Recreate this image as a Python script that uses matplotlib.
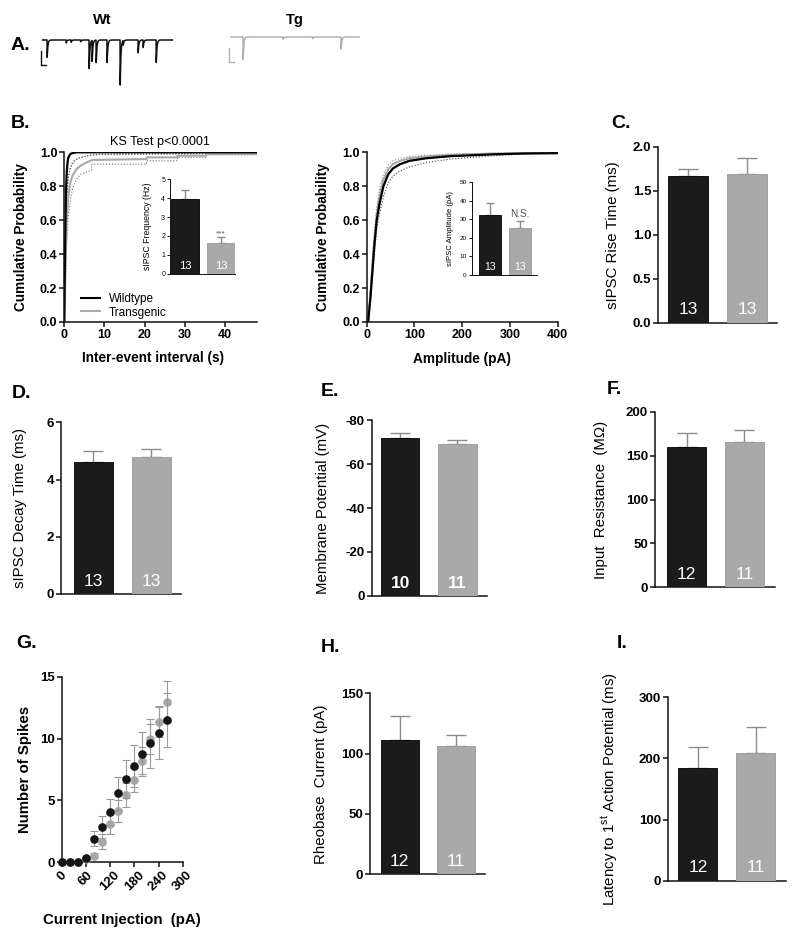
import numpy as np
import matplotlib
matplotlib.use("Agg")
import matplotlib.pyplot as plt
from matplotlib.lines import Line2D

plt.rcParams['font.family'] = ['Liberation Sans', 'DejaVu Sans']
plt.rcParams['mathtext.fontset'] = 'custom'
plt.rcParams['mathtext.rm'] = 'Liberation Sans'
plt.rcParams['mathtext.it'] = 'Liberation Sans:italic'
plt.rcParams['mathtext.bf'] = 'Liberation Sans:bold'

W, H = 800, 934
BLACK = '#1b1b1b'
GRAY = '#a9a9a9'
ERR = '#8c8c8c'

# ---- data ----
# A: example traces, events as (time s, amplitude pA)
wt_events_t = [0.52, 1.93, 2.30, 3.00, 3.63, 3.85, 4.15, 4.96, 5.93, 6.15, 7.26, 7.63, 8.60]
wt_events_a = [-115, -20, -15, -12, -190, -140, -150, -150, -300, -30, -85, -50, -150]
tg_events_t = [1.12, 4.10, 6.30, 8.43]
tg_events_a = [-150, -15, -10, -80]

# B left: cumulative inter-event interval (s)
iei_wt_x = [0, 0.2, 0.4, 0.6, 0.8, 1.0, 1.5, 2.0, 3.0, 48]
iei_wt_y = [0, 0.45, 0.75, 0.88, 0.94, 0.97, 0.99, 0.995, 1.0, 1.0]
iei_wt_lo_x = [0, 0.3, 0.6, 1.0, 1.5, 2.5, 4.0, 7.0, 10.0, 48]
iei_wt_lo_y = [0, 0.40, 0.70, 0.85, 0.91, 0.95, 0.97, 0.985, 0.99, 0.995]
iei_tg_x = [0, 0.3, 0.6, 1.0, 1.5, 2.0, 3.0, 4.0, 5.5, 7.0, 20.5, 20.5, 28.2, 28.2, 35.4, 35.4, 48]
iei_tg_y = [0, 0.35, 0.60, 0.74, 0.82, 0.86, 0.90, 0.92, 0.94, 0.955, 0.96, 0.97, 0.97, 0.98, 0.98, 0.99, 0.99]
iei_tg_lo_x = [0, 0.3, 0.6, 1.0, 1.5, 2.0, 3.0, 4.0, 6.8, 6.8, 20.5, 20.5, 28.2, 28.2, 35.4, 35.4, 48]
iei_tg_lo_y = [0, 0.25, 0.48, 0.62, 0.72, 0.78, 0.84, 0.87, 0.895, 0.93, 0.93, 0.95, 0.95, 0.97, 0.97, 0.985, 0.985]
iei_tg_hi_x = [0, 0.2, 0.5, 1.0, 1.5, 2.0, 3.0, 5.0, 7.0, 48]
iei_tg_hi_y = [0, 0.45, 0.72, 0.86, 0.91, 0.94, 0.96, 0.975, 0.985, 0.995]

# B right: cumulative amplitude (pA)
amp_x = [3, 8, 12, 16, 21, 27, 35, 45, 55, 70, 90, 125, 175, 265, 330, 400]
amp_wt = [0, 0.15, 0.30, 0.45, 0.60, 0.70, 0.80, 0.87, 0.905, 0.93, 0.95, 0.965, 0.977, 0.988, 0.993, 0.995]
amp_wt_lo = [0, 0.12, 0.26, 0.40, 0.55, 0.64, 0.74, 0.82, 0.86, 0.89, 0.915, 0.94, 0.96, 0.98, 0.99, 0.993]
amp_wt_hi = [0, 0.18, 0.34, 0.50, 0.64, 0.75, 0.84, 0.90, 0.93, 0.95, 0.965, 0.975, 0.985, 0.992, 0.995, 0.997]
amp_tg = [0, 0.17, 0.33, 0.48, 0.63, 0.74, 0.84, 0.90, 0.93, 0.95, 0.965, 0.975, 0.985, 0.992, 0.995, 0.997]
amp_tg_lo = [0, 0.14, 0.29, 0.43, 0.58, 0.69, 0.80, 0.875, 0.91, 0.935, 0.955, 0.967, 0.98, 0.989, 0.993, 0.996]
amp_tg_hi = [0, 0.20, 0.37, 0.53, 0.68, 0.79, 0.87, 0.925, 0.95, 0.965, 0.975, 0.983, 0.99, 0.995, 0.997, 0.998]

# bar summaries: [wildtype, transgenic]
freq_mean, freq_sem, freq_n = [3.95, 1.65], [0.50, 0.30], [13, 13]
ampl_mean, ampl_sem, ampl_n = [32.3, 25.5], [6.6, 3.5], [13, 13]
rise_mean, rise_sem, rise_n = [1.667, 1.686], [0.075, 0.18], [13, 13]
decay_mean, decay_sem, decay_n = [4.60, 4.80], [0.40, 0.28], [13, 13]
vm_mean, vm_sem, vm_n = [72.0, 69.1], [2.2, 1.8], [10, 11]
rin_mean, rin_sem, rin_n = [159.8, 165.9], [15.9, 12.9], [12, 11]
rheo_mean, rheo_sem, rheo_n = [111.3, 106.6], [19.9, 9.1], [12, 11]
lat_mean, lat_sem, lat_n = [184.9, 208.4], [34.4, 42.5], [12, 11]

# G: spikes vs current injection
inj = [0, 20, 40, 60, 80, 100, 120, 140, 160, 180, 200, 220, 240, 260]
spk_wt = [0, 0, 0, 0.32, 1.89, 2.88, 4.04, 5.57, 6.73, 7.81, 8.75, 9.61, 10.48, 11.5]
spk_wt_sem = [0, 0, 0, 0.1, 0.6, 0.9, 1.05, 1.35, 1.5, 1.7, 1.8, 2.0, 2.1, 2.15]
spk_tg = [0, 0, 0, 0.24, 0.54, 1.67, 3.10, 4.17, 5.44, 6.65, 8.21, 9.96, 11.37, 12.98]
spk_tg_sem = [0, 0, 0, 0.1, 0.2, 0.6, 0.8, 0.9, 0.95, 1.0, 1.1, 1.2, 1.25, 1.65]

LAB = 10.8      # bar-panel y label size
TICK = 9.5      # bar-panel tick size
LETTER = 14     # panel letters

fig = plt.figure(figsize=(W / 100, H / 100), dpi=100)


def px_axes(l, t, r, b):
    return fig.add_axes([l / W, 1 - b / H, (r - l) / W, (b - t) / H])


def px_text(x, y, s, **kw):
    fig.text(x / W, 1 - y / H, s, **kw)


def style(ax, lw=1.1, tick=TICK, ticklen=3.5):
    for s in ['top', 'right']:
        ax.spines[s].set_visible(False)
    for s in ['left', 'bottom']:
        ax.spines[s].set_linewidth(lw)
        ax.spines[s].set_color('#111111')
    ax.tick_params(width=lw, length=ticklen, labelsize=tick, color='#111111', pad=1.5)
    for lab in ax.get_xticklabels() + ax.get_yticklabels():
        lab.set_fontweight('bold')


def set_ylab(ax, text, xpx, box, size=LAB, weight='normal'):
    l, t, r, b = box
    ax.set_ylabel(text, fontsize=size, fontweight=weight)
    ax.yaxis.set_label_coords((xpx - l) / (r - l), 0.5)


def bar_panel(box, means, sems, ns, ylim, yticks, width=0.67, xlim=(-0.52, 1.51),
              num_size=12.5, num_bold=False, num_off=9.3, cap=7, tick=TICK, lw=1.1):
    ax = px_axes(*box)
    x = np.arange(len(means))
    ax.bar(x, means, width=width, color=[BLACK, GRAY], edgecolor=['#000000', '#999999'],
           linewidth=0.6, zorder=3)
    ax.errorbar(x, means, yerr=[np.zeros(len(sems)), sems], fmt='none', ecolor=ERR,
                elinewidth=1.0, capsize=cap, capthick=1.0, zorder=2)
    for xi, n in zip(x, ns):
        ax.annotate(str(n), xy=(xi, 0), xytext=(0, num_off), textcoords='offset points',
                    ha='center', va='center', color='white', fontsize=num_size,
                    fontweight='bold' if num_bold else 'normal', zorder=4)
    ax.set_xlim(*xlim)
    ax.set_ylim(*ylim)
    ax.set_yticks(yticks)
    ax.set_xticks([])
    style(ax, lw=lw, tick=tick)
    return ax


def trace(box, ev_t, ev_a, color):
    ax = px_axes(*box)
    t = np.linspace(0.2, 9.8, 4000)
    y = np.zeros_like(t)
    for t0, a in zip(ev_t, ev_a):
        d = t - t0
        m = d >= 0
        y[m] += a * (1 - np.exp(-d[m] / 0.004)) * np.exp(-d[m] / 0.05)
    ax.plot(t, y, color=color, lw=1.1)
    # scale bar (0.4 s, 70 pA)
    ax.plot([0.07, 0.07, 0.47], [-55, -125, -125], color=color, lw=1.0)
    ax.set_xlim(0, 10)
    ax.set_ylim(-325, 50)
    ax.axis('off')
    return ax


# ---- A ----
trace((40, 30, 175, 105), wt_events_t, wt_events_a, '#111111')
trace((228, 27, 362, 102), tg_events_t, tg_events_a, '#b0b0b0')
px_text(11, 45, 'A.', fontsize=LETTER, fontweight='bold', va='center')
px_text(102, 20, 'Wt', fontsize=10.5, fontweight='bold', ha='center', va='center')
px_text(295, 20, 'Tg', fontsize=10.5, fontweight='bold', ha='center', va='center')

# ---- B left ----
box = (64.3, 152.3, 257, 322)
ax = px_axes(*box)
ax.plot(iei_tg_lo_x, iei_tg_lo_y, color='#707070', lw=0.8, ls=':')
ax.plot(iei_tg_hi_x, iei_tg_hi_y, color='#707070', lw=0.8, ls=':')
ax.plot(iei_wt_lo_x, iei_wt_lo_y, color='#555555', lw=0.8, ls=':')
ax.plot(iei_tg_x, iei_tg_y, color=GRAY, lw=1.5)
ax.plot(iei_wt_x, iei_wt_y, color='#000000', lw=1.6)
ax.set_xlim(0, 48)
ax.set_ylim(0, 1.0)
ax.set_xticks([0, 10, 20, 30, 40])
ax.set_yticks(np.arange(0, 1.01, 0.2))
ax.set_yticklabels(['0.0', '0.2', '0.4', '0.6', '0.8', '1.0'])
style(ax, lw=1.1, tick=9)
set_ylab(ax, 'Cumulative Probability', 28.3, box, size=9.8, weight='bold')
ax.set_xlabel('Inter-event interval (s)', fontsize=9.8, fontweight='bold')
ax.xaxis.set_label_coords(0.46, (322 - 351) / (322 - 152.3))
handles = [Line2D([], [], color='#000000', lw=1.5), Line2D([], [], color=GRAY, lw=1.5)]
ax.legend(handles, ['Wildtype', 'Transgenic'], loc='lower left', bbox_to_anchor=(0.085, 0.02),
          frameon=False, fontsize=8.5, handlelength=1.6, handletextpad=0.8, labelspacing=0.12,
          borderpad=0, borderaxespad=0)
px_text(160, 142, 'KS Test p<0.0001', fontsize=9.1, ha='center', va='center')
px_text(11, 123, 'B.', fontsize=LETTER, fontweight='bold', va='center')

ibox = (170, 179.3, 235, 273.8)
ax = bar_panel(ibox, freq_mean, freq_sem, freq_n, (0, 5), [0, 1, 2, 3, 4, 5], width=0.76,
               xlim=(-0.41, 1.38), num_size=8, num_off=5.8, cap=3.2, tick=5, lw=0.7)
ax.tick_params(length=2)
for lab in ax.get_yticklabels():
    lab.set_fontweight('normal')
set_ylab(ax, 'sIPSC Frequency (Hz)', 152, ibox, size=6.3)
ax.text(1, freq_mean[1] + freq_sem[1], '***', ha='center', va='bottom', fontsize=6, color='#555555')

# ---- B right ----
box = (366.7, 152.3, 557.8, 322)
ax = px_axes(*box)
for yy in [amp_wt_lo, amp_wt_hi]:
    ax.plot(amp_x, yy, color='#444444', lw=0.8, ls=':')
for yy in [amp_tg_lo, amp_tg_hi]:
    ax.plot(amp_x, yy, color='#8a8a8a', lw=0.8, ls=':')
ax.plot(amp_x, amp_tg, color=GRAY, lw=1.5)
ax.plot(amp_x, amp_wt, color='#000000', lw=1.6)
ax.set_xlim(0, 400)
ax.set_ylim(0, 1.0)
ax.set_xticks([0, 100, 200, 300, 400])
ax.set_yticks(np.arange(0, 1.01, 0.2))
ax.set_yticklabels(['0.0', '0.2', '0.4', '0.6', '0.8', '1.0'])
style(ax, lw=1.1, tick=9)
set_ylab(ax, 'Cumulative Probability', 330, box, size=9.8, weight='bold')
ax.set_xlabel('Amplitude (pA)', fontsize=9.8, fontweight='bold')
ax.xaxis.set_label_coords(0.5, (322 - 352) / (322 - 152.3))

ibox = (471.7, 182, 536.7, 275)
ax = bar_panel(ibox, ampl_mean, ampl_sem, ampl_n, (0, 50), [0, 10, 20, 30, 40, 50], width=0.71,
               xlim=(-0.59, 1.54), num_size=7.5, num_off=5.5, cap=3.0, tick=4.6, lw=0.7)
ax.tick_params(length=2)
for lab in ax.get_yticklabels():
    lab.set_fontweight('normal')
set_ylab(ax, 'sIPSC Amplitude (pA)', 454, ibox, size=5.6)
ax.text(1, ampl_mean[1] + ampl_sem[1] + 1.2, 'N.S.', ha='center', va='bottom', fontsize=7.2, color='#555555')

# ---- C ----
box = (658.3, 146.7, 777.3, 322.7)
ax = bar_panel(box, rise_mean, rise_sem, rise_n, (0, 2.0), [0, 0.5, 1.0, 1.5, 2.0],
               xlim=(-0.503, 1.51), num_off=9.6)
ax.set_yticklabels(['0.0', '0.5', '1.0', '1.5', '2.0'], fontweight='bold')
set_ylab(ax, 'sIPSC Rise Time (ms)', 620, box)
px_text(611, 123, 'C.', fontsize=LETTER, fontweight='bold', va='center')

# ---- D ----
box = (61, 422.3, 181, 594)
ax = bar_panel(box, decay_mean, decay_sem, decay_n, (0, 6), [0, 2, 4, 6],
               xlim=(-0.552, 1.506), num_off=8.9)
set_ylab(ax, 'sIPSC Decay Time (ms)', 26.7, box)
px_text(12, 393, 'D.', fontsize=LETTER, fontweight='bold', va='center')

# ---- E ----
box = (371.7, 420, 486.7, 596)
ax = bar_panel(box, vm_mean, vm_sem, vm_n, (0, 80), [0, 20, 40, 60, 80],
               xlim=(-0.497, 1.51), num_bold=True, num_off=9.1)
ax.set_yticklabels(['0', '-20', '-40', '-60', '-80'], fontweight='bold')
set_ylab(ax, 'Membrane Potential (mV)', 330, box)
px_text(321, 391, 'E.', fontsize=LETTER, fontweight='bold', va='center')

# ---- F ----
box = (655, 411.7, 775, 587.3)
ax = bar_panel(box, rin_mean, rin_sem, rin_n, (0, 200), [0, 50, 100, 150, 200],
               xlim=(-0.548, 1.53), num_off=9.3)
set_ylab(ax, 'Input  Resistance  (M\u03a9)', 608.3, box)
px_text(607, 389, 'F.', fontsize=LETTER, fontweight='bold', va='center')

# ---- G ----
box = (61.7, 676.7, 182.7, 862.3)
ax = px_axes(*box)
ax.errorbar(inj, spk_tg, yerr=spk_tg_sem, fmt='o', color='#a8a8a8', ms=5.2, mec='#a8a8a8',
            ecolor='#9a9a9a', elinewidth=0.8, capsize=2.6, capthick=0.8, clip_on=False, zorder=3)
ax.errorbar(inj, spk_wt, yerr=spk_wt_sem, fmt='o', color='#151515', ms=5.2, mec='#151515',
            ecolor='#9a9a9a', elinewidth=0.8, capsize=2.6, capthick=0.8, clip_on=False, zorder=4)
ax.set_xlim(0, 300)
ax.set_ylim(0, 15)
ax.set_xticks([0, 60, 120, 180, 240, 300])
ax.set_yticks([0, 5, 10, 15])
style(ax)
for lab in ax.get_xticklabels():
    lab.set_rotation(45)
    lab.set_ha('center')
set_ylab(ax, 'Number of Spikes', 31.7, box, size=10.8, weight='bold')
ax.set_xlabel('Current Injection  (pA)', fontsize=10.8, fontweight='bold')
ax.xaxis.set_label_coords((121.7 - 61.7) / 121, (862.3 - 912.7) / (862.3 - 676.7))
px_text(16, 644, 'G.', fontsize=LETTER, fontweight='bold', va='center')

# ---- H ----
box = (370, 693.3, 485, 874.3)
ax = bar_panel(box, rheo_mean, rheo_sem, rheo_n, (0, 150), [0, 50, 100, 150],
               xlim=(-0.526, 1.51), num_off=9.3)
set_ylab(ax, 'Rheobase  Current (pA)', 328.3, box)
px_text(321, 647, 'H.', fontsize=LETTER, fontweight='bold', va='center')

# ---- I ----
box = (667.7, 697.3, 786, 880.7)
ax = bar_panel(box, lat_mean, lat_sem, lat_n, (0, 300), [0, 100, 200, 300],
               xlim=(-0.52, 1.52), num_off=9.3)
set_ylab(ax, 'Latency to 1$^{\\mathrm{st}}$ Action Potential (ms)', 620, box)
px_text(617, 643, 'I.', fontsize=LETTER, fontweight='bold', va='center')

fig.savefig('out.png', dpi=100)
